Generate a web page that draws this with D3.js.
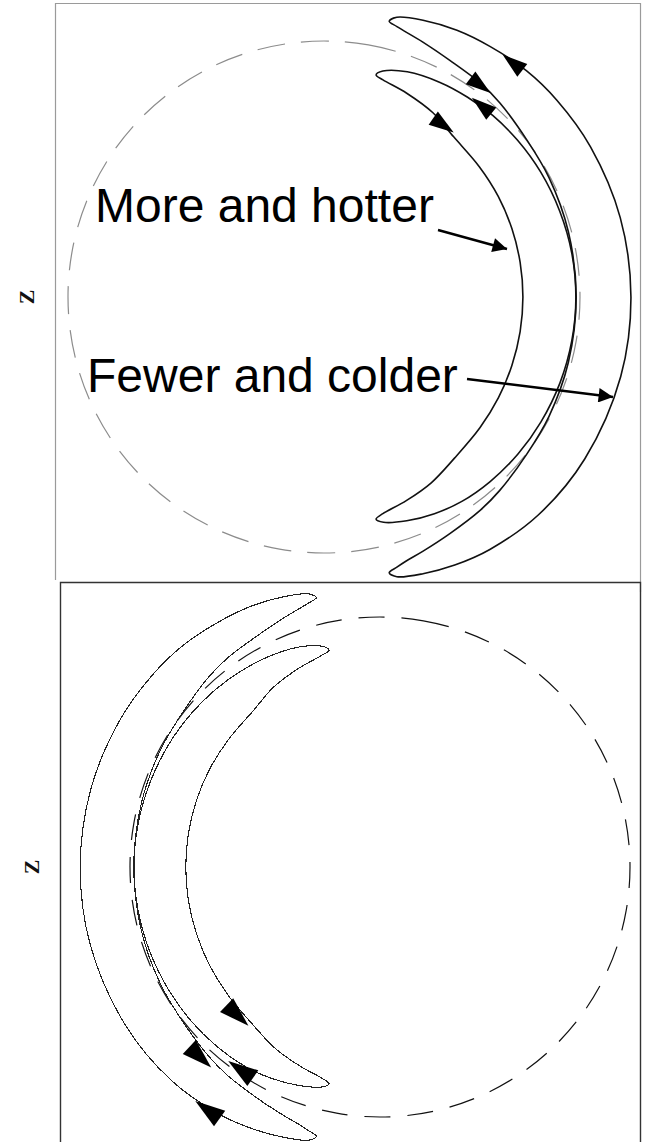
<!DOCTYPE html>
<html>
<head>
<meta charset="utf-8">
<script src="https://cdn.jsdelivr.net/npm/d3@7"></script>
<style>
  body { margin: 0; background: #fff; }
  svg { display: block; }
</style>
</head>
<body>
<svg id="chart" width="650" height="1142"></svg>
<script>
// Outlines of the two drift crescents.
// Each point: [angle from +Z in degrees, radius in units of the dashed circle].
// Order: upper tip -> outer edge -> lower tip -> inner edge.
const innerCrescent = [
  [13.2, 0.891], [14.6, 0.912], [20.3, 0.938], [28.4, 0.953], [35.6, 0.961],
  [42.9, 0.968], [51.0, 0.973], [60, 0.977], [70, 0.980], [80, 0.983],
  [90, 0.984], [100, 0.983], [110, 0.981], [120, 0.978], [129, 0.975],
  [138, 0.970], [146, 0.963], [153, 0.950], [159.7, 0.932],
  [165.2, 0.910], [166.8, 0.891],
  [164.8, 0.877], [158.0, 0.858], [150.0, 0.838], [141, 0.810], [130, 0.795],
  [120, 0.787], [110, 0.781], [100, 0.778], [90, 0.777], [80, 0.778],
  [70, 0.781], [60, 0.786], [50, 0.792], [39, 0.805],
  [30.6, 0.836], [22.1, 0.859], [15.2, 0.879]
];

const outerCrescent = [
  [13.3, 1.107], [14.6, 1.129], [19.7, 1.148], [26.5, 1.164], [33.6, 1.174],
  [41.8, 1.186], [49.8, 1.191], [60.6, 1.195], [75, 1.198], [90, 1.199],
  [105, 1.200], [121.8, 1.199], [135.5, 1.194], [146.7, 1.180], [154, 1.165],
  [160.3, 1.148], [165.4, 1.129], [166.7, 1.107],
  [164.9, 1.093], [162.7, 1.080], [158.8, 1.066], [152, 1.047], [143.9, 1.033],
  [137.8, 1.021], [127.7, 1.002], [118, 0.995], [105, 0.988], [90, 0.985],
  [75, 0.988], [62, 0.995], [52.3, 1.002], [42.2, 1.023], [36.1, 1.035],
  [28, 1.047], [21.2, 1.068], [15.1, 1.094]
];

const crescents = [innerCrescent, outerCrescent];

// Flow arrowheads: [angle from +Z, radius, direction along angle (+1 / -1)]
const topArrows = [
  [38.9, 1.175, -1],
  [36.4, 1.028, 1],
  [39.6, 0.968, -1],
  [34.7, 0.817, 1]
];
const bottomArrows = [
  [136.0, 0.823, 1],
  [136.5, 1.047, 1],
  [145.6, 0.984, -1],
  [144.7, 1.191, -1]
];

const labels = ['More and hotter', 'Fewer and colder'];
const axisLabel = 'Z';

const svg = d3.select('#chart');

// frames
const frames = svg.append('g').attr('fill', 'none');
frames.append('path')
  .attr('d', 'M55.5,580 V3.5 H640.5 V592')
  .attr('stroke', '#9a9a9a').attr('stroke-width', 1.2);
frames.append('path')
  .attr('d', 'M60.5,1150 V582.5 H640.5 V1150')
  .attr('stroke', '#333').attr('stroke-width', 1.4);

const panels = [
  { cx: 324, cy: 297, R: 256, side: 1, arrows: topArrows, arrowScale: 1,
    circle: { stroke: '#8c8c8c', width: 1.2, dash: '28,16' },
    line: { stroke: '#111', width: 1.6, rendering: 'auto' },
    zx: 26, zy: 297 },
  { cx: 380, cy: 867, R: 250, side: -1, arrows: bottomArrows, arrowScale: 1.2,
    circle: { stroke: '#111', width: 1.2, dash: '26,17' },
    line: { stroke: '#222', width: 1.1, rendering: 'crispEdges' },
    zx: 31, zy: 867 }
];

panels.forEach(p => {
  const r = d3.scaleLinear().domain([0, 1]).range([0, p.R]);
  const a = d3.scaleLinear().domain([0, 180]).range([0, p.side * Math.PI]);
  const g = svg.append('g').attr('transform', `translate(${p.cx},${p.cy})`);

  g.append('circle')
    .attr('r', r(1))
    .attr('fill', 'none')
    .attr('stroke', p.circle.stroke)
    .attr('stroke-width', p.circle.width)
    .attr('stroke-dasharray', p.circle.dash)
    .attr('transform', 'rotate(-80)');

  const outline = d3.lineRadial()
    .angle(d => a(d[0]))
    .radius(d => r(d[1]))
    .curve(d3.curveCatmullRomClosed.alpha(0.5));

  g.selectAll('path.crescent')
    .data(crescents)
    .join('path')
    .attr('class', 'crescent')
    .attr('d', outline)
    .attr('fill', 'none')
    .attr('stroke', p.line.stroke)
    .attr('stroke-width', p.line.width)
    .attr('shape-rendering', p.line.rendering);

  g.selectAll('path.flow')
    .data(p.arrows)
    .join('path')
    .attr('class', 'flow')
    .attr('d', 'M13,0 L-12,-8 L-12,8 Z')
    .attr('fill', '#000')
    .attr('transform', d => {
      const [x, y] = d3.pointRadial(a(d[0]), r(d[1]));
      const [x1, y1] = d3.pointRadial(a(d[0] + d[2]), r(d[1]));
      const ang = Math.atan2(y1 - y, x1 - x) * 180 / Math.PI;
      return `translate(${x},${y}) rotate(${ang}) scale(${p.arrowScale})`;
    });

  svg.append('text')
    .attr('transform', `translate(${p.zx},${p.zy}) rotate(-90)`)
    .attr('text-anchor', 'middle')
    .attr('dy', '0.35em')
    .attr('font-family', '"Liberation Serif", "Times New Roman", serif')
    .attr('font-weight', 'bold')
    .attr('font-size', 22)
    .attr('fill', '#111')
    .text(axisLabel);
});

// annotations on the top panel
const defs = svg.append('defs');
defs.append('marker')
  .attr('id', 'head')
  .attr('viewBox', '0 0 10 10')
  .attr('refX', 10).attr('refY', 5)
  .attr('markerWidth', 7).attr('markerHeight', 6)
  .attr('markerUnits', 'strokeWidth')
  .attr('orient', 'auto')
  .append('path').attr('d', 'M0,0 L10,5 L0,10 Z').attr('fill', '#000');

const notes = [
  { text: labels[0], x: 95, y: 222, from: [438, 230], to: [507, 249] },
  { text: labels[1], x: 87, y: 392, from: [467, 379], to: [613, 397] }
];
const ann = svg.append('g');
ann.selectAll('text')
  .data(notes)
  .join('text')
  .attr('x', d => d.x).attr('y', d => d.y)
  .attr('font-family', '"Liberation Sans", Arial, sans-serif')
  .attr('font-size', 48)
  .attr('fill', '#000')
  .text(d => d.text);
ann.selectAll('line')
  .data(notes)
  .join('line')
  .attr('x1', d => d.from[0]).attr('y1', d => d.from[1])
  .attr('x2', d => d.to[0]).attr('y2', d => d.to[1])
  .attr('stroke', '#000')
  .attr('stroke-width', 2.4)
  .attr('marker-end', 'url(#head)');
</script>
</body>
</html>
